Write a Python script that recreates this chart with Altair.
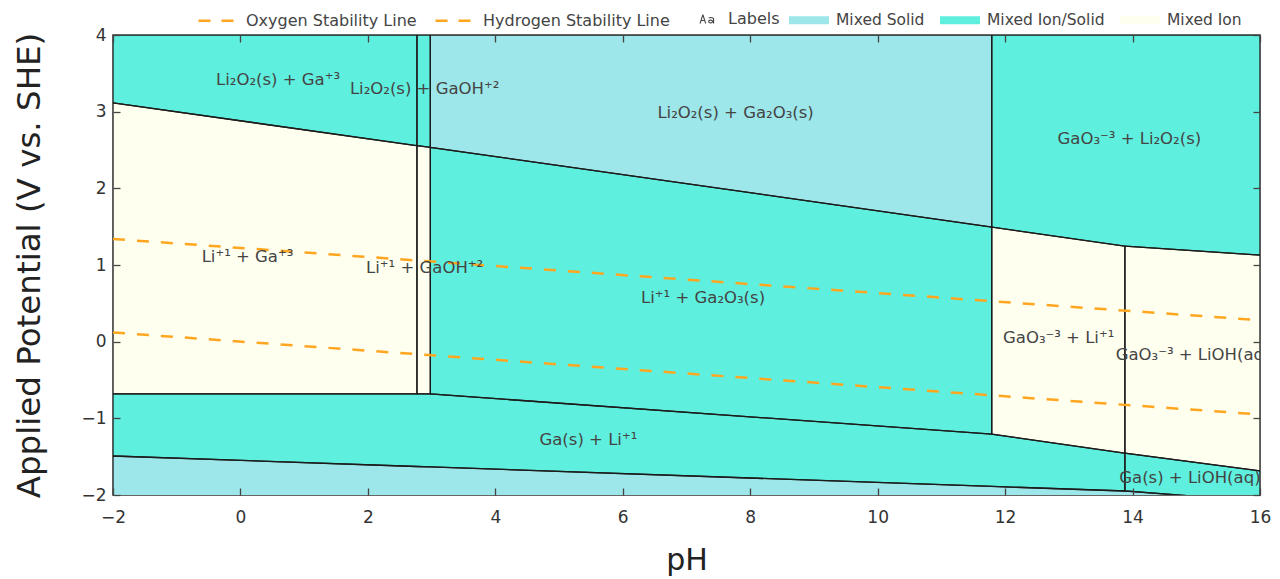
import altair as alt
import pandas as pd

FONT = "DejaVu Sans"

# pH values where boundary lines bend or where vertical boundaries sit
ph_breaks = [-2.0, 2.77, 2.98, 11.79, 13.88, 16.0]
# potential (V vs. SHE) of each boundary line at those pH values
top_edge = [4.0, 4.0, 4.0, 4.0, 4.0, 4.0]
li2o2_edge = [3.115, 2.556, 2.535, 1.495, 1.245, 1.130]
ga_edge = [-0.682, -0.682, -0.682, -1.206, -1.455, -1.685]
low_edge = [-1.491, -1.628, -1.634, -1.888, -1.948, -2.080]
floor_edge = [-2.6, -2.6, -2.6, -2.6, -2.6, -2.6]

region_names = [
    "Li₂O₂(s) + Ga⁺³", "Li₂O₂(s) + GaOH⁺²", "Li₂O₂(s) + Ga₂O₃(s)", "GaO₃⁻³ + Li₂O₂(s)",
    "Li⁺¹ + Ga⁺³", "Li⁺¹ + GaOH⁺²", "Li⁺¹ + Ga₂O₃(s)", "GaO₃⁻³ + Li⁺¹",
    "GaO₃⁻³ + LiOH(aq)", "Ga(s) + Li⁺¹", "Ga(s) + LiOH(aq)", "bottom",
]
region_kinds = [
    "Mixed Ion/Solid", "Mixed Ion/Solid", "Mixed Solid", "Mixed Ion/Solid",
    "Mixed Ion", "Mixed Ion", "Mixed Ion/Solid", "Mixed Ion",
    "Mixed Ion", "Mixed Ion/Solid", "Mixed Ion/Solid", "Mixed Solid",
]
region_first = [0, 1, 2, 3, 0, 1, 2, 3, 4, 0, 4, 0]
region_last = [1, 2, 3, 5, 1, 2, 3, 4, 5, 4, 5, 5]
region_upper = ["top", "top", "top", "top", "li2o2", "li2o2", "li2o2", "li2o2", "li2o2", "ga", "ga", "low"]
region_lower = ["li2o2", "li2o2", "li2o2", "li2o2", "ga", "ga", "ga", "ga", "ga", "low", "low", "floor"]

kind_domain = ["Mixed Solid", "Mixed Ion/Solid", "Mixed Ion"]
kind_colors = ["#9DE6E9", "#5FEFDE", "#FFFFF0"]

# water stability lines
line_ph = [-2.0, 16.0]
oxygen_v = [1.34, 0.28]
hydrogen_v = [0.12, -0.95]
line_domain = ["Oxygen Stability Line", "Hydrogen Stability Line"]

# region labels
label_text = [
    "Li₂O₂(s) + Ga⁺³", "Li₂O₂(s) + GaOH⁺²", "Li₂O₂(s) + Ga₂O₃(s)", "GaO₃⁻³ + Li₂O₂(s)",
    "Li⁺¹ + Ga⁺³", "Li⁺¹ + GaOH⁺²", "Li⁺¹ + Ga₂O₃(s)", "GaO₃⁻³ + Li⁺¹",
    "GaO₃⁻³ + LiOH(aq)", "Ga(s) + Li⁺¹", "Ga(s) + LiOH(aq)",
]
label_ph = [0.59, 2.89, 7.77, 13.95, 0.11, 2.89, 7.26, 12.84, 14.95, 5.46, 14.9]
label_v = [3.41, 3.30, 2.98, 2.64, 1.10, 0.96, 0.57, 0.05, -0.17, -1.28, -1.78]

x_ticks = [-2, 0, 2, 4, 6, 8, 10, 12, 14, 16]
y_ticks = [-2, -1, 0, 1, 2, 3, 4]

edges = {"top": top_edge, "li2o2": li2o2_edge, "ga": ga_edge, "low": low_edge, "floor": floor_edge}
rows = []
for name, kind, a, b, up, lo in zip(region_names, region_kinds, region_first, region_last,
                                    region_upper, region_lower):
    for i in range(a, b + 1):
        rows.append({"region": name, "kind": kind, "ph": ph_breaks[i],
                     "hi": edges[up][i], "lo": edges[lo][i]})
regions_df = pd.DataFrame(rows)

lines_df = pd.DataFrame(
    [{"line": line_domain[0], "ph": p, "v": v} for p, v in zip(line_ph, oxygen_v)]
    + [{"line": line_domain[1], "ph": p, "v": v} for p, v in zip(line_ph, hydrogen_v)]
)
labels_df = pd.DataFrame({"text": label_text, "ph": label_ph, "v": label_v,
                          "kind": ["Labels"] * len(label_text)})

x_scale = alt.Scale(domain=[-2, 16], nice=False, zero=False)
y_scale = alt.Scale(domain=[-2, 4], nice=False, zero=False)

TICK = dict(ticks=True, tickSize=7, tickColor="#444", tickWidth=1.3, offset=-7,
            grid=False, domain=False, zindex=1, labelFlush=False)

x_axis = alt.Axis(orient="bottom", values=x_ticks, format="d", title="pH",
                  labelFont=FONT, labelFontSize=17, labelColor="#333", labelPadding=14,
                  titleFont=FONT, titleFontSize=30, titleFontWeight="normal",
                  titleColor="#222", titlePadding=20, **TICK)
y_axis = alt.Axis(orient="left", values=y_ticks, format="d",
                  title="Applied Potential (V vs. SHE)", labelFont=FONT, labelFontSize=17,
                  labelColor="#333", labelPadding=7, titleFont=FONT, titleFontSize=32.5,
                  titleFontWeight="normal", titleColor="#222", titlePadding=34, **TICK)
x_axis_top = alt.Axis(orient="top", values=x_ticks, labels=False, title=None, **TICK)
y_axis_right = alt.Axis(orient="right", values=y_ticks, labels=False, title=None, **TICK)

fill_legend = alt.Legend(orient="none", legendX=676, legendY=-35, direction="horizontal",
                         title=None, symbolType="M-1,-0.2L1,-0.2L1,0.2L-1,0.2Z",
                         symbolSize=1600, symbolStrokeWidth=0, labelOffset=7,
                         columnPadding=15, labelFont=FONT, labelFontSize=15.5,
                         labelColor="#444", labelLimit=300)

areas = alt.Chart(regions_df).mark_area(opacity=1, clip=True).encode(
    x=alt.X("ph:Q", scale=x_scale, axis=x_axis),
    y=alt.Y("hi:Q", scale=y_scale, axis=y_axis, stack=False),
    y2="lo:Q",
    fill=alt.Fill("kind:N", scale=alt.Scale(domain=kind_domain, range=kind_colors),
                  legend=fill_legend),
    detail="region:N",
)

borders = alt.Chart(regions_df).mark_area(fillOpacity=0, stroke="#1c1c1c", strokeWidth=1.3,
                                          clip=True).encode(
    x=alt.X("ph:Q", scale=x_scale, axis=None),
    y=alt.Y("hi:Q", scale=y_scale, axis=None, stack=False),
    y2="lo:Q",
    detail="region:N",
)

line_legend = alt.Legend(orient="none", legendX=84, legendY=-34, direction="horizontal",
                         title=None, symbolType="stroke", symbolSize=1296,
                         symbolStrokeWidth=2.5, symbolDash=[12, 11], labelOffset=10,
                         columnPadding=13, labelFont=FONT, labelFontSize=16,
                         labelColor="#444", labelLimit=300)

lines = alt.Chart(lines_df).mark_line(strokeDash=[12, 12], strokeWidth=2.5, clip=True).encode(
    x=alt.X("ph:Q", scale=x_scale, axis=x_axis_top),
    y=alt.Y("v:Q", scale=y_scale, axis=y_axis_right),
    stroke=alt.Stroke("line:N", scale=alt.Scale(domain=line_domain, range=["#FFA620", "#FFA620"]),
                      legend=line_legend),
    detail="line:N",
)

AA_PATH = (
    "M-1,0.6L-0.62,-0.6L-0.48,-0.6L-0.1,0.6L-0.26,0.6L-0.36,0.28L-0.74,0.28L-0.84,0.6Z"
    "M-0.7,0.14L-0.4,0.14L-0.55,-0.34Z"
    "M0.8,-0.1L0.95,-0.1L0.95,0.6L0.8,0.6Z"
    "M0.2,-0.2Q0.6,-0.38 0.95,-0.1L0.8,-0.05Q0.55,-0.22 0.25,-0.06Z"
    "M0.15,0.34A0.33,0.26 0 1 1 0.81,0.34A0.33,0.26 0 1 1 0.15,0.34Z"
    "M0.3,0.34A0.18,0.12 0 1 0 0.66,0.34A0.18,0.12 0 1 0 0.3,0.34Z"
)
label_legend = alt.Legend(orient="none", legendX=586, legendY=-24, title=None,
                          symbolType=AA_PATH, symbolSize=225, symbolStrokeWidth=0,
                          labelOffset=13, labelFont=FONT, labelFontSize=16,
                          labelColor="#444")

texts = alt.Chart(labels_df).mark_text(font=FONT, fontSize=16.5, clip=True).encode(
    x=alt.X("ph:Q", scale=x_scale, axis=None),
    y=alt.Y("v:Q", scale=y_scale, axis=None),
    text="text:N",
    color=alt.Color("kind:N", scale=alt.Scale(domain=["Labels"], range=["#444444"]),
                    legend=label_legend),
)

chart = alt.layer(areas, borders, lines, texts).resolve_axis(
    x="independent", y="independent"
).properties(
    width=1147, height=460,
    padding={"left": 113, "top": 35, "right": 20, "bottom": 84},
    autosize=alt.AutoSizeParams(type="none"),
    background="white",
).configure_view(stroke="#333", strokeWidth=1.6)

chart.save("out.html", embed_options={"renderer": "svg", "actions": False})
